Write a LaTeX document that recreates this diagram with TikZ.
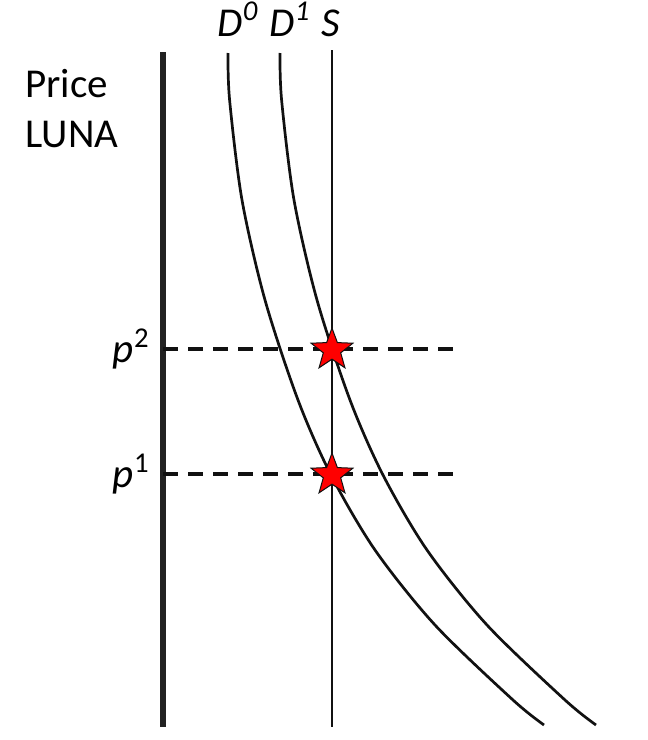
\documentclass[tikz,border=0pt]{standalone}
\usepackage{fontspec}
\setmainfont{Carlito}
\usetikzlibrary{shapes.geometric,positioning}
\definecolor{ink}{HTML}{111111}
\definecolor{axisgray}{HTML}{222222}
\definecolor{starred}{HTML}{FF0000}

\begin{document}
\begin{tikzpicture}[x=0.5pt, y=-0.5pt,
    lbl/.style={inner sep=0pt, font=\fontsize{20.5}{25}\selectfont},
    curve/.style={draw=ink, line width=1.35pt},
    level/.style={draw=ink, line width=1.6pt, dash pattern=on 7.5pt off 5pt},
    eqstar/.style={star, star points=5, star point ratio=2.4, minimum size=22pt, inner sep=0pt, fill=starred, draw=ink, line width=0.5pt}]
  \useasboundingbox (0,0) rectangle (648,740);
  % axis and supply
  \coordinate (ytop) at (163,52);
  \coordinate (ybot) at (163,727);
  \coordinate (stop) at (332,50);
  \coordinate (sbot) at (332,727);
  \draw[axisgray, line width=2.8pt] (ytop) -- (ybot);
  \draw[ink, line width=1pt] (stop) -- (sbot);
  % demand curves
  \draw[curve] plot[smooth] coordinates {(228,53) (229.6,100) (242,200) (265,300) (298,400) (331,475) (375,550) (435,625) (513,700) (544,725)};
  \draw[curve] plot[smooth] coordinates {(280,53) (281.6,100) (294,200) (317,300) (350,400) (383,475) (427,550) (487,625) (565,700) (596,725)};
  % labels
  \node[lbl, anchor=north west, align=left] (ylab) at (25,69) {Price\\LUNA};
  \node[lbl, anchor=base] (d0lab) at (238,36) {\textit{D\textsuperscript{0}}};
  \node[lbl, anchor=base] (d1lab) at (290,36) {\textit{D\textsuperscript{1}}};
  \node[lbl, anchor=base] (slab) at (331,36) {\textit{S}};
  % price levels
  \coordinate (p2a) at (163,349);
  \coordinate (p2b) at (460,349);
  \coordinate (p1a) at (163,474);
  \coordinate (p1b) at (460,474);
  \node[lbl, anchor=east] (p2lab) at (150,349) {\textit{p}\textsuperscript{2}};
  \node[lbl, anchor=east] (p1lab) at (150,474) {\textit{p}\textsuperscript{1}};
  \draw[level] (p2a) -- (p2b);
  \draw[level] (p1a) -- (p1b);
  % equilibria
  \node[eqstar] (eq2) at (332,350) {};
  \node[eqstar] (eq1) at (332,475) {};
\end{tikzpicture}
\end{document}
